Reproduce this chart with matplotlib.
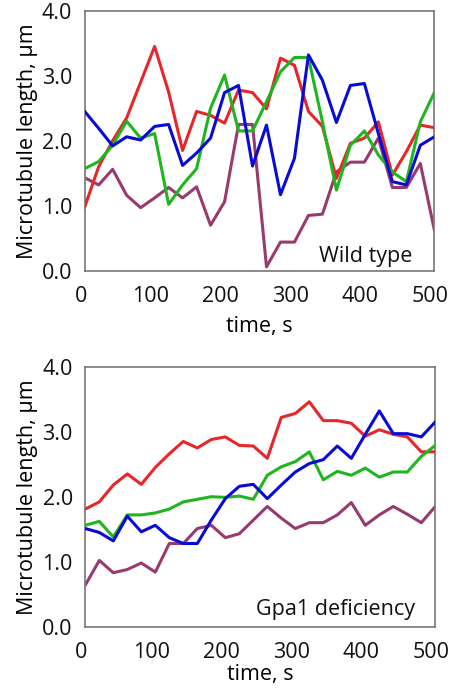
import matplotlib
matplotlib.use("Agg")
import matplotlib.pyplot as plt
import matplotlib.transforms as mtransforms
import numpy as np

plt.rcParams['font.family'] = ['Open Sans', 'DejaVu Sans']

time_s = list(range(0, 501, 20))

# Wild type
wt_red = [0.98, 1.6, 2.0, 2.35, 2.9, 3.45, 2.75, 1.85, 2.45, 2.39, 2.27, 2.78, 2.74,
          2.49, 3.27, 3.16, 2.45, 2.22, 1.42, 1.96, 2.04, 2.29, 1.47, 1.83, 2.24, 2.2]
wt_green = [1.57, 1.68, 1.93, 2.30, 2.04, 2.11, 1.02, 1.32, 1.57, 2.5, 3.01, 2.15, 2.15,
            2.6, 3.06, 3.28, 3.28, 2.29, 1.24, 1.93, 2.15, 1.78, 1.52, 1.37, 2.29, 2.74]
wt_blue = [2.45, 2.19, 1.92, 2.06, 2.01, 2.22, 2.25, 1.62, 1.81, 2.04, 2.74, 2.85, 1.61,
           2.24, 1.17, 1.73, 3.32, 2.93, 2.28, 2.85, 2.88, 2.11, 1.37, 1.32, 1.93, 2.06]
wt_purple = [1.43, 1.32, 1.56, 1.16, 0.97, 1.12, 1.28, 1.12, 1.29, 0.70, 1.06, 2.25, 2.25,
             0.06, 0.44, 0.44, 0.85, 0.87, 1.52, 1.67, 1.67, 2.04, 1.28, 1.28, 1.65, 0.63]

# Gpa1 deficiency
gd_red = [1.81, 1.92, 2.18, 2.35, 2.19, 2.45, 2.66, 2.85, 2.75, 2.88, 2.92, 2.79, 2.78,
          2.59, 3.22, 3.28, 3.46, 3.17, 3.17, 3.13, 2.93, 3.03, 2.96, 2.92, 2.69, 2.69]
gd_green = [1.56, 1.62, 1.38, 1.72, 1.72, 1.75, 1.81, 1.92, 1.96, 2.0, 1.99, 2.01, 1.96,
            2.33, 2.46, 2.54, 2.69, 2.26, 2.39, 2.33, 2.44, 2.30, 2.38, 2.38, 2.62, 2.79]
gd_blue = [1.51, 1.45, 1.32, 1.70, 1.46, 1.56, 1.37, 1.28, 1.28, 1.64, 1.97, 2.16, 2.19,
           1.97, 2.18, 2.38, 2.51, 2.57, 2.78, 2.59, 2.96, 3.32, 2.97, 2.97, 2.92, 3.15]
gd_purple = [0.64, 1.02, 0.83, 0.88, 0.98, 0.84, 1.28, 1.28, 1.51, 1.56, 1.37, 1.43, 1.64,
             1.85, 1.67, 1.51, 1.6, 1.6, 1.72, 1.91, 1.56, 1.72, 1.85, 1.73, 1.6, 1.85]

panel_titles = ["Wild type", "Gpa1 deficiency"]
x_ticks = [0, 100, 200, 300, 400, 500]
y_ticks = [0.0, 1.0, 2.0, 3.0, 4.0]

colors = {"red": "#e8262a", "green": "#1fb51f", "blue": "#0a0ad8", "purple": "#983a6e"}

W, H = 450, 688
fig = plt.figure(figsize=(W / 100, H / 100), dpi=100)

def add_ax(l, t, r, b):
    return fig.add_axes([l / W, 1 - b / H, (r - l) / W, (b - t) / H])

axes = [add_ax(84.7, 10.7, 434.3, 270.7), add_ax(85.3, 366.7, 435.3, 626.7)]
data = [(wt_red, wt_green, wt_blue, wt_purple), (gd_red, gd_green, gd_blue, gd_purple)]
title_pos = [(0.936, 0.035), (0.943, 0.045)]
xlabel_y = [-0.215, -0.185]

FS = 15.5
for ax, series, title, tpos, xly in zip(axes, data, panel_titles, title_pos, xlabel_y):
    r, g, b, p = series
    ax.plot(time_s, r, color=colors["red"], lw=2.2, zorder=3)
    ax.plot(time_s, p, color=colors["purple"], lw=2.2, zorder=2)
    ax.plot(time_s, g, color=colors["green"], lw=2.2, zorder=3)
    ax.plot(time_s, b, color=colors["blue"], lw=2.2, zorder=4)
    ax.set_xlim(0, 500)
    ax.set_ylim(0, 4.0)
    ax.set_xticks(x_ticks)
    ax.set_xticklabels([str(v) for v in x_ticks])
    ax.set_yticks(y_ticks)
    ax.set_yticklabels([f"{v:.1f}" for v in y_ticks])
    ax.tick_params(length=0, labelsize=FS, colors="#111111")
    ax.tick_params(axis="x", pad=11)
    ax.tick_params(axis="y", pad=9)
    for s in ax.spines.values():
        s.set_color("#777777")
        s.set_linewidth(1.2)
    ax.set_xlabel("time, s", fontsize=15.5)
    ax.xaxis.set_label_coords(0.5, xly)
    ax.xaxis.label.set_va("center")
    ax.set_ylabel("Microtubule length, µm", fontsize=FS, labelpad=3)
    ax.text(tpos[0], tpos[1], title, transform=ax.transAxes, ha="right", va="baseline",
            fontsize=FS, color="#111111")
    off = mtransforms.ScaledTranslation(-4 / 100, 0, fig.dpi_scale_trans)
    for lab in ax.get_xticklabels():
        lab.set_transform(lab.get_transform() + off)

fig.savefig("out.png", dpi=100)
